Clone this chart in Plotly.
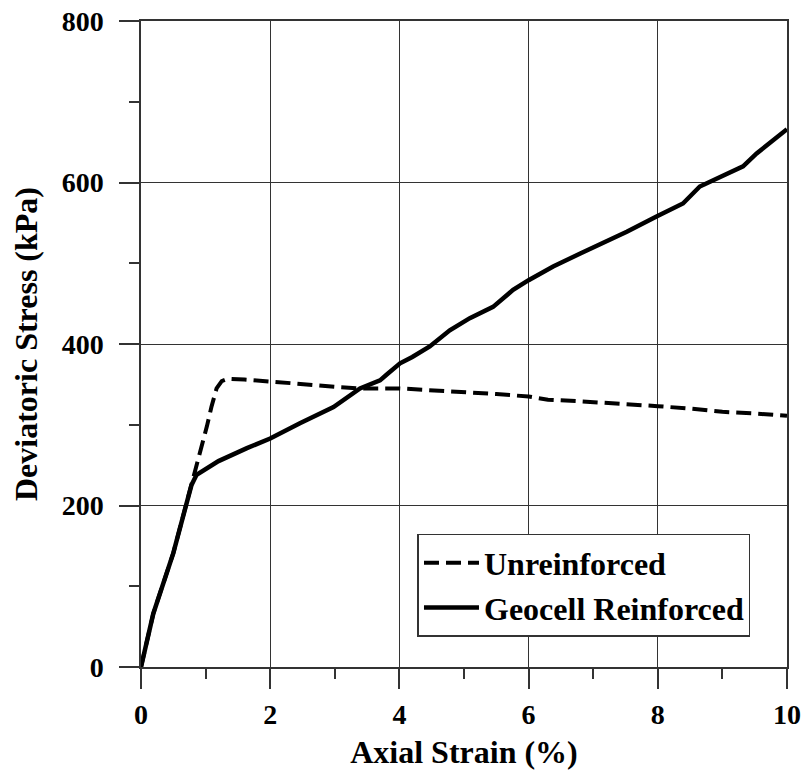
import plotly.graph_objects as go

# Axial strain (%) and deviatoric stress (kPa)
unreinf_strain = [0, 0.19, 0.5, 0.71, 0.78, 0.84, 0.94, 1.02, 1.09, 1.17, 1.25, 1.35, 1.6, 2.0, 2.4,
                  3.0, 3.4, 4.0, 4.5, 5.0, 5.5, 6.0, 6.3, 6.8, 7.5, 8.0, 8.5, 9.0, 9.5, 10.0]
unreinf_stress = [0, 66, 141, 203, 225, 244, 273, 298, 322, 345, 354, 357, 356, 354, 351,
                  347, 345, 345, 343, 341, 338, 335, 331, 329, 326, 323, 320, 316, 314, 311]

geocell_strain = [0, 0.19, 0.5, 0.71, 0.78, 0.86, 1.2, 1.64, 2.0, 2.46, 2.98, 3.39, 3.70, 3.80, 4.01,
                  4.2, 4.47, 4.78, 5.09, 5.45, 5.76, 6.0, 6.38, 6.80, 7.52, 7.98, 8.39, 8.65, 8.86,
                  9.32, 9.53, 10.0]
geocell_stress = [0, 66, 141, 203, 225, 238, 255, 271, 283, 302, 322, 345, 355, 362, 376,
                  384, 397, 417, 432, 446, 467, 479, 496, 512, 539, 558, 574, 595, 603,
                  620, 636, 666]

x_ticks = [0, 2, 4, 6, 8, 10]
y_ticks = [0, 200, 400, 600, 800]
x_minor_mirror = [1, 3, 5, 7, 9]
y_minor_mirror = [100, 300, 500, 700]

FONT = "Times New Roman, Liberation Serif, serif"
LINE = "#333333"

fig = go.Figure()
fig.add_trace(go.Scatter(x=unreinf_strain, y=unreinf_stress, mode="lines", name="Unreinforced",
                         line=dict(color="black", width=4, dash="15px,7px")))
fig.add_trace(go.Scatter(x=geocell_strain, y=geocell_stress, mode="lines", name="Geocell Reinforced",
                         line=dict(color="black", width=4.5)))

fig.update_layout(
    width=806, height=771,
    margin=dict(l=141, r=19, t=21, b=104),
    paper_bgcolor="white", plot_bgcolor="white",
    font=dict(family=FONT, color="black", size=28, weight="bold"),
    showlegend=True,
    legend=dict(x=0.428, y=0.2059, xanchor="left", yanchor="top",
                bordercolor=LINE, borderwidth=1.5, bgcolor="white",
                font=dict(family=FONT, size=32, color="black", weight="bold"),
                itemwidth=55, tracegroupgap=0),
    xaxis=dict(range=[0, 10], tickvals=x_ticks, ticks="outside", ticklen=20, tickwidth=1.5,
               tickcolor=LINE, showline=True, linecolor=LINE, linewidth=1.5, mirror=True,
               showgrid=True, gridcolor=LINE, gridwidth=1, zeroline=False, automargin=False,
               minor=dict(dtick=1, ticks="outside", ticklen=10, tickwidth=1.5, tickcolor=LINE, showgrid=False),
               tickfont=dict(family=FONT, size=28, color="black", weight="bold"),
               ticklabelstandoff=2,
               title=dict(text="Axial Strain (%)", standoff=11,
                          font=dict(family=FONT, size=32, color="black", weight="bold"))),
    yaxis=dict(range=[0, 800], tickvals=y_ticks, ticks="outside", ticklen=20, tickwidth=1.5,
               tickcolor=LINE, showline=True, linecolor=LINE, linewidth=1.5, mirror=True,
               showgrid=True, gridcolor=LINE, gridwidth=1, zeroline=False, automargin=False,
               minor=dict(dtick=100, ticks="outside", ticklen=10, tickwidth=1.5, tickcolor=LINE, showgrid=False),
               tickfont=dict(family=FONT, size=28, color="black", weight="bold"),
               ticklabelstandoff=10,
               title=dict(text="Deviatoric Stress (kPa)", standoff=14,
                          font=dict(family=FONT, size=32, color="black", weight="bold"))),
    xaxis2=dict(overlaying="x", side="top", range=[0, 10], tickvals=x_minor_mirror, ticks="inside",
                ticklen=10, tickwidth=1.5, tickcolor=LINE, showticklabels=False, showgrid=False,
                showline=False, zeroline=False, anchor="y", automargin=False),
    yaxis2=dict(overlaying="y", side="right", range=[0, 800], tickvals=y_minor_mirror, ticks="inside",
                ticklen=10, tickwidth=1.5, tickcolor=LINE, showticklabels=False, showgrid=False,
                showline=False, zeroline=False, anchor="x", automargin=False),
)

fig.write_html("out.html")
